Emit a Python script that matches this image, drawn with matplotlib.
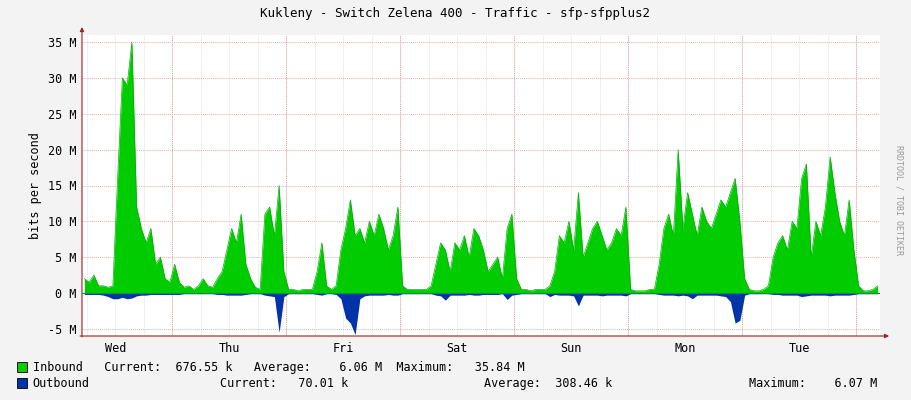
import matplotlib
matplotlib.use('Agg')
import matplotlib.pyplot as plt
import numpy as np

# hourly samples, starting Wed 05:00, in Mbit/s
inbound_wed = [2, 1.5, 2.5, 1, 1, 0.8, 1, 16, 30, 29, 35, 12, 9, 7, 9, 4, 5, 2, 1.5]
inbound_thu = [4, 1.5, 0.8, 1, 0.5, 1, 2, 1, 0.8, 2, 3, 6, 9, 7, 11, 4, 2, 0.8, 0.5,
               11, 12, 8, 15, 3]
inbound_fri = [0.5, 0.5, 0.3, 0.5, 0.5, 0.5, 3, 7, 1, 0.5, 1, 6, 9, 13, 8, 9, 7, 10,
               8, 11, 9, 6, 8, 12]
inbound_sat = [1, 0.5, 0.5, 0.5, 0.5, 0.5, 1, 4, 7, 6, 3, 7, 6, 8, 5, 9, 8, 6, 3, 4,
               5, 2, 9, 11]
inbound_sun = [2, 0.5, 0.5, 0.3, 0.5, 0.5, 0.5, 1, 3, 8, 7, 10, 6, 14, 5, 7, 9, 10,
               8, 6, 7, 9, 8, 12]
inbound_mon = [0.5, 0.3, 0.3, 0.3, 0.5, 0.5, 4, 9, 11, 8, 20, 9, 14, 11, 8, 12, 10,
               9, 11, 13, 12, 14, 16, 10]
inbound_tue = [2, 0.5, 0.3, 0.3, 0.5, 1, 5, 7, 8, 6, 10, 9, 16, 18, 5, 10, 8, 12, 19,
               14, 10, 8, 13, 6, 1, 0.3, 0.3, 0.5, 1]

outbound_wed = [0.2, 0.2, 0.2, 0.2, 0.3, 0.5, 0.8, 0.8, 0.6, 0.8, 0.7, 0.4, 0.3, 0.3,
                0.2, 0.2, 0.2, 0.2, 0.2]
outbound_thu = [0.2, 0.2, 0.1, 0.1, 0.1, 0.1, 0.1, 0.1, 0.1, 0.2, 0.2, 0.3, 0.3, 0.3,
                0.3, 0.2, 0.1, 0.1, 0.1, 0.3, 0.4, 0.5, 5.5, 0.5]
outbound_fri = [0.1, 0.1, 0.1, 0.1, 0.1, 0.1, 0.2, 0.3, 0.1, 0.1, 0.2, 0.8, 3.5, 4.2,
                5.8, 0.8, 0.4, 0.3, 0.3, 0.3, 0.3, 0.2, 0.3, 0.3]
outbound_sat = [0.1, 0.1, 0.1, 0.1, 0.1, 0.1, 0.1, 0.3, 0.4, 1.0, 0.3, 0.3, 0.3, 0.3,
                0.2, 0.3, 0.3, 0.2, 0.2, 0.2, 0.2, 0.1, 0.9, 0.3]
outbound_sun = [0.2, 0.1, 0.1, 0.1, 0.1, 0.1, 0.1, 0.5, 0.2, 0.3, 0.3, 0.3, 0.4, 1.8,
                0.3, 0.3, 0.3, 0.3, 0.4, 0.3, 0.3, 0.3, 0.3, 0.4]
outbound_mon = [0.1, 0.1, 0.1, 0.1, 0.1, 0.1, 0.2, 0.3, 0.3, 0.3, 0.4, 0.3, 0.4, 0.8,
                0.3, 0.3, 0.3, 0.3, 0.3, 0.4, 0.5, 1.2, 4.2, 3.8]
outbound_tue = [0.3, 0.1, 0.1, 0.1, 0.1, 0.1, 0.2, 0.2, 0.3, 0.3, 0.3, 0.3, 0.5, 0.4,
                0.3, 0.3, 0.3, 0.3, 0.4, 0.3, 0.3, 0.3, 0.3, 0.2, 0.1, 0.1, 0.1, 0.1, 0.1]

inbound = np.array(inbound_wed + inbound_thu + inbound_fri + inbound_sat
                   + inbound_sun + inbound_mon + inbound_tue)
outbound = np.array(outbound_wed + outbound_thu + outbound_fri + outbound_sat
                    + outbound_sun + outbound_mon + outbound_tue)
hours = np.arange(len(inbound)) + 0.5

day_labels = ['Wed', 'Thu', 'Fri', 'Sat', 'Sun', 'Mon', 'Tue']
first_midnight = 19  # Thu 00:00 in hours from start
y_ticks = [-5, 0, 5, 10, 15, 20, 25, 30, 35]

mono = 'DejaVu Sans Mono'
fig = plt.figure(figsize=(9.11, 4.0), dpi=100, facecolor='#F3F3F3')
ax = fig.add_axes([0.09, 0.16, 0.876, 0.7525], facecolor='white')
ax.set_xlim(0, 168)
ax.set_ylim(-6, 36)

# grid: minor every 6h, major at midnight
for h in range(-5, 169, 6):
    if 0 < h < 168:
        ax.axvline(h, color='#DDDDDD', lw=0.6, ls=(0, (1, 1)), zorder=0)
for i in range(7):
    ax.axvline(first_midnight + 24 * i, color='#F5A0A0', lw=0.7, ls=(0, (1, 1)), zorder=0)
for y in range(-5, 36, 5):
    ax.axhline(y, color='#E8B0B0', lw=0.7, ls=(0, (1, 1)), zorder=0)

ax.fill_between(hours, inbound, color='#00CC00', lw=0, zorder=2)
ax.plot(hours, inbound, color='#00B000', lw=0.5, zorder=3)
ax.fill_between(hours, -outbound, color='#0033AA', lw=0, zorder=2)
ax.axhline(0, color='#00A000', lw=0.8, zorder=4)

ax.set_yticks(y_ticks)
ax.set_yticklabels(['%d M' % v for v in y_ticks], family=mono, fontsize=8.5)
ax.set_xticks([first_midnight - 12 + 24 * i for i in range(7)])
ax.set_xticklabels(day_labels, family=mono, fontsize=8.5)
ax.tick_params(length=0, pad=4)
for s in ax.spines.values():
    s.set_visible(False)
ax.annotate('', xy=(170.5, -6), xytext=(-1, -6), annotation_clip=False,
            arrowprops=dict(arrowstyle='-|>', color='#A02020', lw=0.8, mutation_scale=6))
ax.annotate('', xy=(0, 37.5), xytext=(0, -6.5), annotation_clip=False,
            arrowprops=dict(arrowstyle='-|>', color='#A02020', lw=0.8, mutation_scale=6))
ax.set_ylabel('bits per second', family=mono, fontsize=8.5)

fig.text(0.5, 0.965, 'Kukleny - Switch Zelena 400 - Traffic - sfp-sfpplus2',
         ha='center', va='center', family=mono, fontsize=9)
fig.text(0.987, 0.5, 'RRDTOOL / TOBI OETIKER', rotation=270, ha='center',
         va='center', family=mono, fontsize=6, color='#999999')

fig.patches.append(plt.Rectangle((0.019, 0.069), 0.011, 0.025, transform=fig.transFigure,
                                 facecolor='#00CC00', edgecolor='black', lw=0.6))
fig.patches.append(plt.Rectangle((0.019, 0.029), 0.011, 0.025, transform=fig.transFigure,
                                 facecolor='#0033AA', edgecolor='black', lw=0.6))
fig.text(0.036, 0.081, 'Inbound   Current:  676.55 k   Average:    6.06 M  Maximum:   35.84 M',
         family=mono, fontsize=8.5, va='center')
fig.text(0.036, 0.041, 'Outbound', family=mono, fontsize=8.5, va='center')
fig.text(0.241, 0.041, 'Current:   70.01 k', family=mono, fontsize=8.5, va='center')
fig.text(0.531, 0.041, 'Average:  308.46 k', family=mono, fontsize=8.5, va='center')
fig.text(0.822, 0.041, 'Maximum:    6.07 M', family=mono, fontsize=8.5, va='center')

fig.savefig('out.png', dpi=100, facecolor=fig.get_facecolor())
